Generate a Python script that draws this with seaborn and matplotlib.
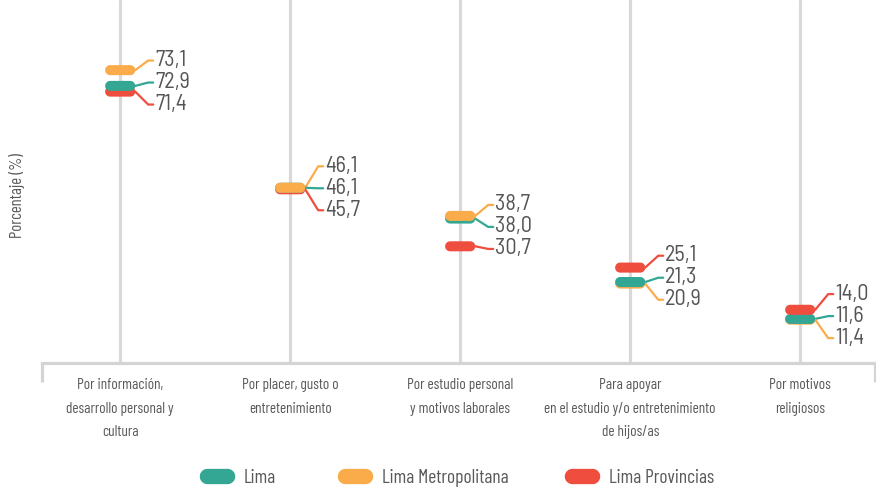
import numpy as np
import pandas as pd
import matplotlib
matplotlib.use("Agg")
import matplotlib.pyplot as plt
import seaborn as sns
from matplotlib.path import Path
from matplotlib.lines import Line2D

# ---------------- data ----------------
categories = [
    "Por información,\ndesarrollo personal y\ncultura",
    "Por placer, gusto o\nentretenimiento",
    "Por estudio personal\ny motivos laborales",
    "Para apoyar\nen el estudio y/o entretenimiento\nde hijos/as",
    "Por motivos\nreligiosos",
]
series = ["Lima", "Lima Metropolitana", "Lima Provincias"]
lima = [72.9, 46.1, 38.0, 21.3, 11.6]
lima_metropolitana = [73.1, 46.1, 38.7, 20.9, 11.4]
lima_provincias = [71.4, 45.7, 30.7, 25.1, 14.0]

colors = {"Lima": "#33a694", "Lima Metropolitana": "#fbac4a", "Lima Provincias": "#ef4d3e"}
draw_priority = {"Lima": 0, "Lima Provincias": 1, "Lima Metropolitana": 2}
label_priority = {"Lima Metropolitana": 0, "Lima": 1, "Lima Provincias": 2}
# visual nudge (pixels, upward) for a pill hidden by overlap
nudge_px = {("Lima Metropolitana", 0): 15}

# ---------------- style ----------------
sns.set_theme(style="white")
plt.rcParams["font.family"] = ["Barlow Condensed", "DejaVu Sans"]
VAL_FONT = ["Barlow Semi Condensed", "Barlow Condensed", "DejaVu Sans"]
TXT = "#595959"

fig = plt.figure(figsize=(8.76, 4.95), dpi=100)
ax = fig.add_axes([42 / 876, (495 - 363) / 495, (875 - 42) / 876, 363 / 495])
XMIN, XMAX, YMAX = -0.46, 4.44, 95.5
ax.set_xlim(XMIN, XMAX)
ax.set_ylim(0, YMAX)
bb = ax.get_window_extent()
px_x = bb.width / (XMAX - XMIN)
px_y = bb.height / YMAX


def pill(w, h=1.0, n=18):
    r = h / 2
    c = w / 2 - r
    t1 = np.linspace(-np.pi / 2, np.pi / 2, n)
    t2 = np.linspace(np.pi / 2, 3 * np.pi / 2, n)
    v = np.vstack([np.c_[c + r * np.cos(t1), r * np.sin(t1)],
                   np.c_[-c + r * np.cos(t2), r * np.sin(t2)]])
    v = np.vstack([v, v[:1]])
    codes = [Path.MOVETO] + [Path.LINETO] * (len(v) - 2) + [Path.CLOSEPOLY]
    return Path(v, codes)


pill_data = pill(3.0)
pill_leg = pill(2.45)

rows = []
for s, vals in zip(series, [lima, lima_metropolitana, lima_provincias]):
    for i, v in enumerate(vals):
        rows.append(dict(series=s, cat=i, value=v,
                         ydisp=v + nudge_px.get((s, i), 0) / px_y,
                         dp=draw_priority[s], lp=label_priority[s]))
df = pd.DataFrame(rows)
df_draw = df.sort_values(["value", "dp"]).reset_index(drop=True)

# pills
sns.scatterplot(data=df_draw, x="cat", y="ydisp", hue="series", palette=colors,
                marker=pill_data, s=470, linewidth=0, legend=False, ax=ax, zorder=3)

# grid and axis
ax.set_xticks(range(len(categories)))
ax.set_xticklabels(categories, fontsize=11, color=TXT)
plt.setp(ax.get_xticklabels(), linespacing=1.85)
ax.tick_params(axis="x", length=0, pad=11)
ax.set_xlabel("")
ax.set_yticks([])
ax.grid(axis="x", color="#d9d9d9", lw=2.3)
ax.grid(axis="y", visible=False)
ax.set_axisbelow(True)
for sp in ["left", "top", "right"]:
    ax.spines[sp].set_visible(False)
ax.spines["bottom"].set_color("#d4d4d4")
ax.spines["bottom"].set_linewidth(2.3)
for xe in (0, 1):
    ax.add_line(Line2D([xe, xe], [0, -0.052], transform=ax.transAxes,
                       color="#d4d4d4", lw=2.3, clip_on=False, solid_capstyle="butt"))

ax.set_ylabel("Porcentaje (%)", fontsize=12, color=TXT)
ax.yaxis.set_label_coords(-0.021, 0.46)


# leader lines and labels
def spread(p, g):
    groups = [[k] for k in range(len(p))]

    def place(gr):
        c = np.mean([p[k] for k in gr])
        n = len(gr)
        return [c + ((n - 1) / 2 - j) * g for j in range(n)]

    changed = True
    while changed:
        changed = False
        for a in range(len(groups) - 1):
            pa, pb = place(groups[a]), place(groups[a + 1])
            if pa[-1] - pb[0] < g - 1e-9:
                groups[a] = groups[a] + groups[a + 1]
                del groups[a + 1]
                changed = True
                break
    out = []
    for gr in groups:
        out += place(gr)
    return out


GAP = 22
for i in range(len(categories)):
    sub = df[df.cat == i].sort_values(["value", "lp"], ascending=[False, True])
    p = list(sub.ydisp * px_y)
    labs = spread(p, GAP)
    for (_, r), ly in zip(sub.iterrows(), labs):
        ly_d = ly / px_y
        xs = [i + 15 / px_x, i + 28 / px_x, i + 33 / px_x]
        ys = [r.ydisp, ly_d, ly_d]
        ax.plot(xs, ys, color=colors[r.series], lw=1.6, zorder=2,
                solid_capstyle="round", clip_on=False)
        ax.text(i + 35 / px_x, ly_d, f"{r.value:.1f}".replace(".", ","),
                fontsize=16, family=VAL_FONT, color="#555555",
                va="center", ha="left", zorder=4)

# legend
leg_x = [200, 338, 565]
for s, lx in zip(series, leg_x):
    h = Line2D([], [], marker=pill_leg, markersize=24.5, color=colors[s], linestyle="none")
    fig.legend([h], [s], loc="center left", bbox_to_anchor=(lx / 876, 1 - 478 / 495),
               frameon=False, fontsize=14, handlelength=1.7, handletextpad=0.55,
               borderpad=0, borderaxespad=0, labelcolor=TXT)

fig.savefig("out.png", dpi=100)
